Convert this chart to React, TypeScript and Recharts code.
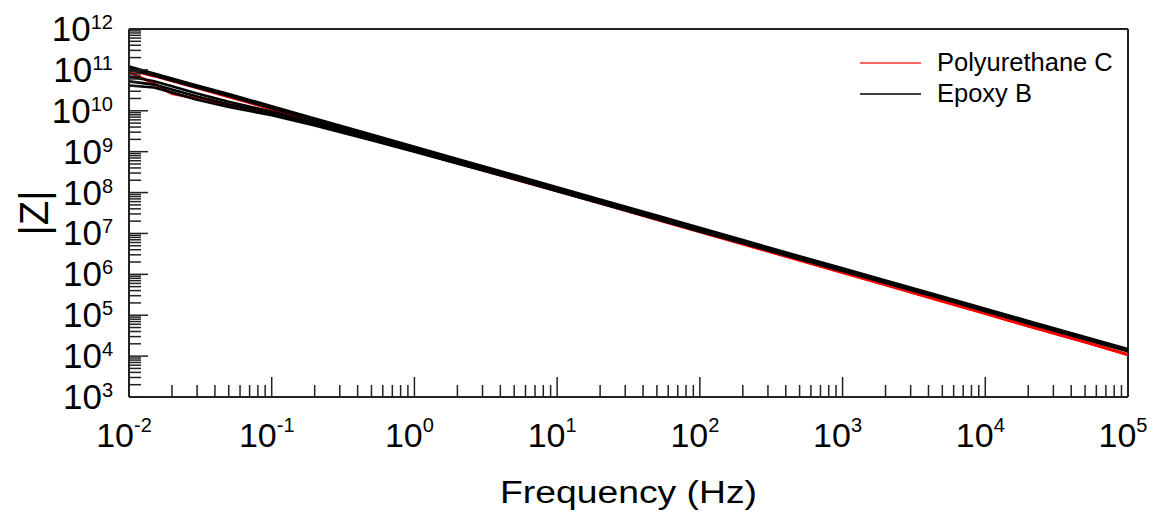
import React from 'react';
import { LineChart, Line, XAxis, YAxis, ReferenceLine, Label } from 'recharts';

// Frequencies (Hz)
const FREQ = [0.01, 0.015, 0.02, 0.03, 0.05, 0.1, 0.2, 0.5, 1, 2, 5, 10, 20, 50, 100, 200, 500, 1000, 2000, 5000, 1e4, 2e4, 5e4, 1e5];

// log10 |Z|
const EPOXY_B1 = [11.08, 10.91, 10.79, 10.62, 10.41, 10.11, 9.81, 9.42, 9.12, 8.82, 8.43, 8.13, 7.83, 7.44, 7.14, 6.84, 6.44, 6.15, 5.85, 5.46, 5.16, 4.86, 4.47, 4.17];
const EPOXY_B2 = [11.02, 10.86, 10.74, 10.57, 10.36, 10.06, 9.77, 9.38, 9.08, 8.78, 8.39, 8.09, 7.79, 7.40, 7.10, 6.81, 6.41, 6.12, 5.82, 5.43, 5.13, 4.83, 4.44, 4.14];
const EPOXY_B3 = [10.84, 10.72, 10.60, 10.42, 10.22, 9.98, 9.71, 9.34, 9.05, 8.75, 8.36, 8.06, 7.77, 7.38, 7.08, 6.79, 6.40, 6.10, 5.81, 5.42, 5.12, 4.82, 4.43, 4.13];
const EPOXY_B4 = [10.62, 10.57, 10.45, 10.27, 10.09, 9.89, 9.64, 9.28, 9.00, 8.71, 8.33, 8.03, 7.74, 7.35, 7.05, 6.76, 6.37, 6.08, 5.79, 5.40, 5.10, 4.80, 4.41, 4.12];
const EPOXY_B5 = [10.72, 10.64, 10.52, 10.35, 10.16, 9.94, 9.68, 9.32, 9.03, 8.74, 8.36, 8.06, 7.77, 7.38, 7.08, 6.79, 6.40, 6.10, 5.81, 5.42, 5.12, 4.82, 4.43, 4.13];
const PU_C1 = [11.00, 10.85, 10.73, 10.56, 10.34, 10.04, 9.73, 9.33, 9.03, 8.73, 8.34, 8.05, 7.75, 7.35, 7.05, 6.75, 6.35, 6.05, 5.75, 5.35, 5.05, 4.74, 4.35, 4.04];
const PU_C2 = [10.95, 10.66, 10.42, 10.30, 10.13, 9.93, 9.68, 9.30, 9.01, 8.72, 8.33, 8.04, 7.74, 7.34, 7.04, 6.74, 6.34, 6.04, 5.74, 5.34, 5.04, 4.73, 4.34, 4.03];

const X_MAJOR = [0.01, 0.1, 1, 10, 100, 1000, 1e4, 1e5];
const X_EXP_LABELS = ['-2', '-1', '0', '1', '2', '3', '4', '5'];
const Y_MAJOR = [1e3, 1e4, 1e5, 1e6, 1e7, 1e8, 1e9, 1e10, 1e11, 1e12];
const Y_EXP_LABELS = ['3', '4', '5', '6', '7', '8', '9', '10', '11', '12'];
const MINOR_MULT = [2, 3, 4, 5, 6, 7, 8, 9];

const BLACK_SERIES = [EPOXY_B1, EPOXY_B2, EPOXY_B3, EPOXY_B4, EPOXY_B5];
const RED_SERIES = [PU_C1, PU_C2];

const rows = FREQ.map((f, i) => {
  const r: Record<string, number> = { f };
  BLACK_SERIES.forEach((s, k) => { r['b' + k] = Math.pow(10, s[i]); });
  RED_SERIES.forEach((s, k) => { r['r' + k] = Math.pow(10, s[i]); });
  return r;
});

const withMinor = (major: number[]) => {
  const out: number[] = [];
  major.forEach((m, i) => {
    out.push(m);
    if (i < major.length - 1) MINOR_MULT.forEach((k) => out.push(m * k));
  });
  return out;
};
const xTicks = withMinor(X_MAJOR);
const yTicks = withMinor(Y_MAJOR);

const FONT = '"Liberation Sans", Arial, sans-serif';
const AXIS = '#222';

const majorIndex = (arr: number[], v: number) =>
  arr.findIndex((m) => Math.abs(Math.log10(m) - Math.log10(v)) < 1e-6);

const XTick = (props: any) => {
  const { x, y, payload } = props;
  const idx = majorIndex(X_MAJOR, payload.value);
  const major = idx >= 0;
  return (
    <g>
      <line x1={x} y1={y} x2={x} y2={y - (major ? 20 : 12)} stroke={AXIS} strokeWidth={1.5} />
      {major && (
        <text x={x - 5} y={y + 50} textAnchor="middle" fontFamily={FONT} fontSize={34} fill="#000">
          <tspan>10</tspan>
          <tspan dy={-15} fontSize={20}>{X_EXP_LABELS[idx]}</tspan>
        </text>
      )}
    </g>
  );
};

const YTick = (props: any) => {
  const { x, y, payload } = props;
  const idx = majorIndex(Y_MAJOR, payload.value);
  const major = idx >= 0;
  return (
    <g>
      <line x1={x} y1={y} x2={x + (major ? 19 : 12)} y2={y} stroke={AXIS} strokeWidth={1.5} />
      {major && (
        <text x={x - 16} y={y + 12} textAnchor="end" fontFamily={FONT} fontSize={35} fill="#000">
          <tspan>10</tspan>
          <tspan dy={-12} fontSize={20}>{Y_EXP_LABELS[idx]}</tspan>
        </text>
      )}
    </g>
  );
};

const LEGEND = [
  { name: 'Polyurethane C', color: '#ff3030' },
  { name: 'Epoxy B', color: '#000' },
];

export default function App() {
  return (
    <div style={{ position: 'relative', width: 1148, height: 511 }}>
      <style>{'svg { overflow: visible; }'}</style>
      <LineChart width={1148} height={511} data={rows} margin={{ top: 21, right: 28, bottom: 0, left: 0 }}>
        <XAxis
          dataKey="f"
          type="number"
          scale="log"
          domain={[0.01, 1e5]}
          ticks={xTicks}
          interval={0}
          allowDataOverflow
          tickSize={0}
          tickMargin={0}
          tickLine={false}
          tick={<XTick />}
          height={122}
          axisLine={{ stroke: AXIS, strokeWidth: 2 }}
        >
          <Label
            content={(p: any) => {
              const vb = p.viewBox;
              return (
                <text
                  x={vb.x + vb.width / 2}
                  y={vb.y + 106}
                  textAnchor="middle"
                  fontFamily={FONT}
                  fontSize={31}
                  textLength={257}
                  lengthAdjust="spacingAndGlyphs"
                  fill="#000"
                >
                  Frequency (Hz)
                </text>
              );
            }}
          />
        </XAxis>
        <YAxis
          type="number"
          scale="log"
          domain={[1e3, 1e12]}
          ticks={yTicks}
          interval={0}
          allowDataOverflow
          tickSize={0}
          tickMargin={0}
          tickLine={false}
          tick={<YTick />}
          width={121}
          axisLine={{ stroke: AXIS, strokeWidth: 2 }}
        >
          <Label
            content={(p: any) => {
              const vb = p.viewBox;
              const cx = 26;
              const cy = vb.y + vb.height / 2;
              return (
                <text
                  x={cx}
                  y={cy}
                  transform={`rotate(-90 ${cx} ${cy})`}
                  textAnchor="middle"
                  dominantBaseline="central"
                  fontFamily={FONT}
                  fontSize={40}
                  fill="#000"
                >
                  |Z|
                </text>
              );
            }}
          />
        </YAxis>
        <ReferenceLine y={1e12} stroke={AXIS} strokeWidth={2} />
        <ReferenceLine x={1e5} stroke={AXIS} strokeWidth={2} />
        {RED_SERIES.map((_, k) => (
          <Line key={'r' + k} dataKey={'r' + k} type="linear" stroke="#ff0000" strokeWidth={2.8} dot={false} isAnimationActive={false} />
        ))}
        {BLACK_SERIES.map((_, k) => (
          <Line key={'b' + k} dataKey={'b' + k} type="linear" stroke="#000" strokeWidth={2.6} dot={false} isAnimationActive={false} />
        ))}
      </LineChart>
      <svg
        width={300}
        height={70}
        style={{ position: 'absolute', left: 842, top: 32, pointerEvents: 'none' }}
      >
        {LEGEND.map((e, i) => (
          <g key={e.name}>
            <line x1={10} x2={71} y1={23 + i * 31} y2={23 + i * 31} stroke={e.color} strokeWidth={1.5} />
            <text x={87} y={31 + i * 31} fontFamily={FONT} fontSize={25.5} fill="#000">
              {e.name}
            </text>
          </g>
        ))}
      </svg>
    </div>
  );
}
